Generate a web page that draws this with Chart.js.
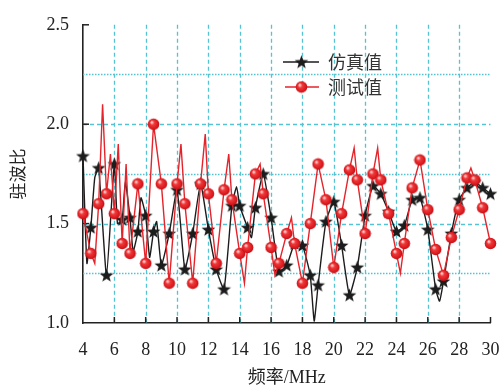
<!DOCTYPE html>
<html>
<head>
<meta charset="utf-8">
<script src="https://cdn.jsdelivr.net/npm/chart.js@4"></script>
<style>
  body { margin: 0; background: #fff; }
  #wrap { width: 500px; height: 387px; }
</style>
</head>
<body>
<div id="wrap"><canvas id="myChart" width="500" height="387"></canvas></div>
<script>
// 仿真值 (simulated) - stars every 0.5 MHz, extra points where the curve wiggles
const simFreq = [4, 4.25, 4.5, 4.75, 5, 5.5, 6, 6.2, 6.5, 6.7, 7, 7.2, 7.5, 7.7, 8, 8.25, 8.5, 8.7, 9,
  9.5, 10, 10.5, 11, 11.5, 12, 12.5, 13, 13.5, 13.8, 14, 14.5, 14.75, 15, 15.5, 16, 16.5, 17, 17.5,
  18, 18.5, 18.75, 19, 19.5, 20, 20.5, 21, 21.5, 22, 22.5, 23, 23.5, 24, 24.5, 25, 25.5, 26, 26.5,
  26.75, 27, 27.5, 28, 28.5, 29, 29.5, 30];
const simVals = [1.84, 1.30, 1.48, 1.73, 1.78, 1.24, 1.80, 1.50, 1.52, 1.71, 1.53, 1.36, 1.46, 1.63, 1.54, 1.33, 1.46, 1.51, 1.29,
  1.45, 1.67, 1.27, 1.45, 1.70, 1.47, 1.27, 1.17, 1.59, 1.685, 1.59, 1.48, 1.43, 1.58, 1.75, 1.53, 1.26, 1.29, 1.40,
  1.39, 1.24, 1.01, 1.19, 1.51, 1.61, 1.39, 1.14, 1.28, 1.54, 1.69, 1.65, 1.56, 1.46, 1.49, 1.62, 1.63, 1.47, 1.17,
  1.11, 1.21, 1.45, 1.62, 1.68, 1.71, 1.68, 1.65];

// 测试值 (measured) - circles every 0.5 MHz, spikes in between
const testFreq = [4, 4.5, 4.75, 5, 5.25, 5.5, 5.75, 6, 6.25, 6.5, 6.75, 7, 7.5, 8, 8.5, 9, 9.5, 10, 10.25,
  10.5, 11, 11.5, 11.8, 12, 12.5, 13, 13.3, 13.5, 14, 14.3, 14.5, 15, 15.3, 15.5, 16, 16.25, 16.5, 17,
  17.3, 17.5, 18, 18.5, 19, 19.5, 20, 20.5, 21, 21.3, 21.5, 22, 22.5, 22.8, 23, 23.5, 24, 24.25, 24.5,
  25, 25.5, 26, 26.5, 27, 27.5, 28, 28.5, 28.75, 29, 29.5, 30];
const testVals = [1.55, 1.35, 1.30, 1.60, 2.10, 1.65, 1.85, 1.55, 1.90, 1.40, 1.80, 1.35, 1.70, 1.30, 2.00, 1.70, 1.20, 1.70, 1.90,
  1.60, 1.20, 1.70, 1.95, 1.65, 1.30, 1.67, 1.85, 1.62, 1.35, 1.20, 1.38, 1.75, 1.80, 1.65, 1.38, 1.24, 1.30, 1.45,
  1.53, 1.40, 1.20, 1.50, 1.80, 1.62, 1.28, 1.55, 1.77, 1.88, 1.72, 1.45, 1.75, 1.88, 1.72, 1.55, 1.35, 1.25, 1.40,
  1.68, 1.82, 1.57, 1.37, 1.24, 1.43, 1.57, 1.73, 1.78, 1.72, 1.58, 1.40];

const seriesNames = ['仿真值', '测试值'];
const xTicks = [4, 6, 8, 10, 12, 14, 16, 18, 20, 22, 24, 26, 28, 30];
const yTicks = [1.0, 1.5, 2.0, 2.5];
const yMinor = [1.25, 1.75, 2.25];

const gridColor = 'rgb(84,196,210)';
const redColor = '#e5232a';

// marker images
function starImage() {
  const c = document.createElement('canvas');
  c.width = 15; c.height = 15;
  const g = c.getContext('2d');
  g.beginPath();
  for (let i = 0; i < 10; i++) {
    const r = i % 2 === 0 ? 7.2 : 3.0;
    const a = -Math.PI / 2 + i * Math.PI / 5;
    const px = 7.5 + r * Math.cos(a), py = 8 + r * Math.sin(a);
    if (i === 0) g.moveTo(px, py); else g.lineTo(px, py);
  }
  g.closePath();
  g.fillStyle = '#1c1c1c';
  g.fill();
  return c;
}
function ballImage() {
  const c = document.createElement('canvas');
  c.width = 13; c.height = 13;
  const g = c.getContext('2d');
  const grad = g.createRadialGradient(4.6, 4.4, 0.5, 6.5, 6.5, 6.2);
  grad.addColorStop(0, '#ffd8d8');
  grad.addColorStop(0.3, '#f03a3a');
  grad.addColorStop(0.8, '#d8161c');
  grad.addColorStop(1, '#b00e12');
  g.beginPath();
  g.arc(6.5, 6.5, 5.8, 0, Math.PI * 2);
  g.fillStyle = grad;
  g.fill();
  return c;
}
const star = starImage();
const ball = ballImage();

const isMarker = (ctx) => ctx.raw && Number.isInteger(ctx.raw.x * 2);

const simData = simFreq.map((f, i) => ({x: f, y: simVals[i]}));
const testData = testFreq.map((f, i) => ({x: f, y: testVals[i]}));

const gridPlugin = {
  id: 'gridPlugin',
  beforeDatasetsDraw(chart) {
    const {ctx, chartArea: a, scales: {x, y}} = chart;
    ctx.save();
    ctx.strokeStyle = gridColor;
    ctx.lineWidth = 1.3;
    ctx.setLineDash([4, 3]);
    xTicks.slice(1, -1).forEach(f => {
      const px = Math.round(x.getPixelForValue(f)) + 0.5;
      ctx.beginPath(); ctx.moveTo(px, a.top); ctx.lineTo(px, a.bottom); ctx.stroke();
    });
    yTicks.slice(1, -1).forEach(v => {
      const py = Math.round(y.getPixelForValue(v)) + 0.5;
      ctx.beginPath(); ctx.moveTo(a.left, py); ctx.lineTo(a.right, py); ctx.stroke();
    });
    ctx.setLineDash([1.5, 1.5]);
    yMinor.forEach(v => {
      const py = Math.round(y.getPixelForValue(v)) + 0.5;
      ctx.beginPath(); ctx.moveTo(a.left, py); ctx.lineTo(a.right, py); ctx.stroke();
    });
    // inward ticks
    ctx.setLineDash([]);
    ctx.strokeStyle = '#222';
    ctx.lineWidth = 1.5;
    xTicks.slice(1).forEach(f => {
      const px = x.getPixelForValue(f);
      ctx.beginPath(); ctx.moveTo(px, a.bottom); ctx.lineTo(px, a.bottom - 6); ctx.stroke();
    });
    yTicks.slice(1).forEach(v => {
      const py = y.getPixelForValue(v);
      ctx.beginPath(); ctx.moveTo(a.left, py); ctx.lineTo(a.left + 6, py); ctx.stroke();
    });
    ctx.restore();
  },
  afterDraw(chart) {
    const ctx = chart.ctx;
    ctx.save();
    const rows = [
      {y: 62, color: '#1c1c1c', img: star, x0: 283},
      {y: 87, color: redColor, img: ball, x0: 285}
    ];
    rows.forEach((r, i) => {
      ctx.strokeStyle = r.color;
      ctx.lineWidth = 1.4;
      ctx.beginPath(); ctx.moveTo(r.x0, r.y); ctx.lineTo(319, r.y); ctx.stroke();
      ctx.drawImage(r.img, 301.5 - r.img.width / 2, r.y - r.img.height / 2);
      ctx.fillStyle = '#333';
      ctx.font = '18px "Noto Sans CJK SC"';
      ctx.textBaseline = 'middle';
      ctx.textAlign = 'left';
      ctx.fillText(seriesNames[i], 328, r.y);
    });
    ctx.restore();
  }
};

const ctx = document.getElementById('myChart').getContext('2d');
const myChart = new Chart(ctx, {
  type: 'line',
  data: {
    datasets: [{
      label: seriesNames[1],
      data: testData,
      borderColor: redColor,
      borderWidth: 1.4,
      tension: 0,
      pointStyle: ball,
      pointRadius: c => isMarker(c) ? 5 : 0,
      pointHoverRadius: 0,
      clip: false
    }, {
      label: seriesNames[0],
      data: simData,
      borderColor: '#1c1c1c',
      borderWidth: 1.4,
      tension: 0.15,
      pointStyle: star,
      pointRadius: c => isMarker(c) ? 5 : 0,
      pointHoverRadius: 0,
      clip: false
    }]
  },
  options: {
    responsive: false,
    animation: false,
    devicePixelRatio: 1,
    layout: { padding: { top: 21, right: 0, left: 0, bottom: 0 } },
    plugins: { legend: { display: false }, tooltip: { enabled: false } },
    scales: {
      x: {
        type: 'linear',
        min: 4, max: 30,
        afterFit: s => { s.height = 64; s.paddingRight = 9.5; s.paddingLeft = 0; },
        afterBuildTicks: s => { s.ticks = xTicks.map(v => ({value: v})); },
        grid: { display: false, drawTicks: false },
        border: { color: '#222', width: 1.6 },
        ticks: { padding: 16, color: '#222', font: { family: '"Liberation Serif"', size: 18 } },
        title: {
          display: true, text: '频率/MHz', color: '#222',
          font: { family: '"Liberation Serif", "Noto Sans CJK SC"', size: 18, lineHeight: 1 },
          padding: { top: 0, bottom: 0 }
        }
      },
      y: {
        min: 1, max: 2.5,
        afterFit: s => { s.width = 83; },
        afterBuildTicks: s => { s.ticks = yTicks.map(v => ({value: v})); },
        grid: { display: false, drawTicks: false },
        border: { color: '#222', width: 1.6 },
        ticks: {
          padding: 14, color: '#222',
          font: { family: '"Liberation Serif"', size: 18 },
          callback: v => v.toFixed(1)
        },
        title: {
          display: true, text: '驻波比', color: '#222',
          font: { family: '"Noto Sans CJK SC"', size: 17, lineHeight: 1 },
          padding: { top: 9, bottom: 0 }
        }
      }
    }
  },
  plugins: [gridPlugin]
});
</script>
</body>
</html>
